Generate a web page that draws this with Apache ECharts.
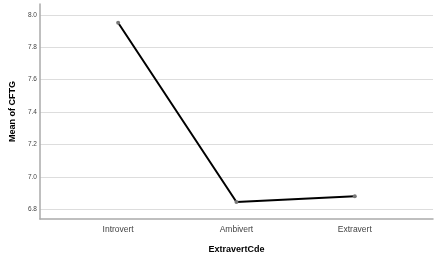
<!DOCTYPE html>
<html><head><meta charset="utf-8">
<script src="https://cdn.jsdelivr.net/npm/echarts@6/dist/echarts.min.js"></script>
<style>html,body{margin:0;padding:0;background:#fff}#c{width:439px;height:259px}</style>
</head><body><div id="c"></div>
<script>
var categories = ['Introvert', 'Ambivert', 'Extravert'];
var meanCFTG = [7.951, 6.845, 6.881];
var yTicks = [6.8, 7.0, 7.2, 7.4, 7.6, 7.8, 8.0];

var chart = echarts.init(document.getElementById('c'), null, {renderer: 'canvas'});
chart.setOption({
  animation: false,
  grid: {left: 36, right: 6, top: 4, bottom: 37, containLabel: false},
  xAxis: {
    type: 'value', min: -0.661, max: 2.661,
    name: 'ExtravertCde', nameLocation: 'middle', nameGap: 26,
    nameTextStyle: {fontFamily: 'Liberation Sans', fontWeight: 'bold', fontSize: 9, color: '#000'},
    axisLine: {show: true, onZero: false, lineStyle: {color: '#aaa', width: 1.5}},
    axisTick: {show: false, customValues: [0, 1, 2]},
    splitLine: {show: false},
    axisLabel: {customValues: [0, 1, 2], formatter: function (v) { return categories[Math.round(v)]; },
      fontFamily: 'Liberation Sans', fontSize: 8.5, color: '#444', margin: 6}
  },
  yAxis: {
    type: 'value', min: 6.74, max: 8.067,
    name: 'Mean of CFTG', nameLocation: 'middle', nameGap: 22,
    nameTextStyle: {fontFamily: 'Liberation Sans', fontWeight: 'bold', fontSize: 9, color: '#000'},
    axisLine: {show: true, onZero: false, lineStyle: {color: '#aaa', width: 1.5}},
    axisTick: {show: false, customValues: yTicks},
    splitLine: {show: true, lineStyle: {color: '#ddd', width: 1}},
    axisLabel: {customValues: yTicks, formatter: function (v) { return v.toFixed(1); },
      fontFamily: 'Liberation Sans', fontSize: 6.5, color: '#444', margin: 3}
  },
  series: [{
    type: 'line',
    data: meanCFTG.map(function (v, i) { return [i, v]; }),
    lineStyle: {color: '#000', width: 2},
    symbol: 'circle', symbolSize: 4,
    itemStyle: {color: '#777'},
    z: 3
  }]
});
</script></body></html>
